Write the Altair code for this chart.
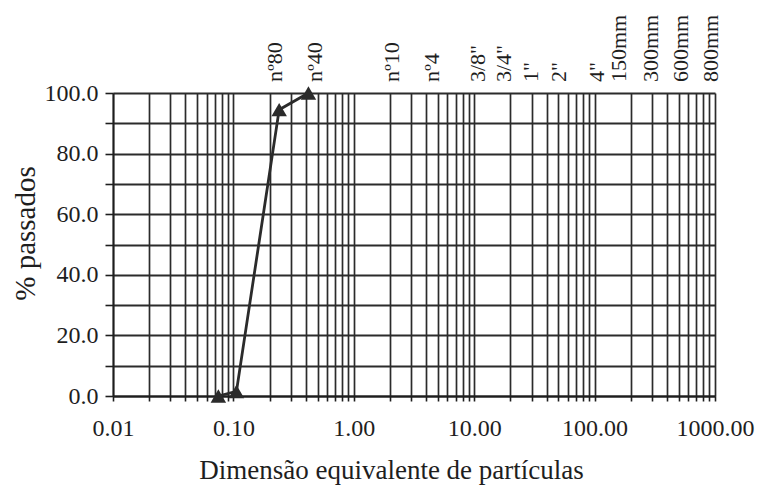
import altair as alt
import pandas as pd

# Grading curve: particle size (mm) and cumulative percent passing
sizes = [0.075, 0.106, 0.24, 0.42]
passing = [0.0, 1.5, 94.5, 100.0]

# Sieve designations and apertures (mm), written above the plot
sieve_names = ["nº80", "nº40", "nº10", "nº4", '3/8"', '3/4"', '1"', '2"', '4"',
               "150mm", "300mm", "600mm", "800mm"]
sieve_sizes = [0.18, 0.42, 2.0, 4.75, 9.5, 19.0, 25.4, 50.8, 101.6,
               150, 300, 600, 800]
# Sideways nudge (px) for each sieve name so neighbouring names don't collide
sieve_nudge = [11, 7, 2, -3, 6, -4, 8, 0, 2, 3, -1, -7, 8]

# Log-grid positions: 1..9 in every decade from 0.01 to 1000
x_ticks = [round(m * 10.0 ** k, 6) for k in range(-2, 3) for m in range(1, 10)] + [1000.0]
y_ticks = list(range(0, 101, 10))

FONT = "Liberation Serif"
INK = "#2b2b2b"
TXT = "#1e1e1e"
PLOT_W, PLOT_H = 602, 303
DECADE_PX = PLOT_W / 5  # five decades across the x axis

curve = pd.DataFrame({"mm": sizes, "pct": passing})
sieves = pd.DataFrame({"mm": sieve_sizes, "name": sieve_names, "nudge": sieve_nudge})

x_scale = alt.Scale(type="log", domain=[0.01, 1000], nice=False)
y_scale = alt.Scale(domain=[0, 100], nice=False, zero=True)

x_axis = alt.Axis(
    values=x_ticks,
    labelExpr="abs(log(datum.value)/LN10 - round(log(datum.value)/LN10)) < 1e-6 ? format(datum.value, '.2f') : ''",
    labelOverlap=False,
    labelFlush=False,
    labelFont=FONT, labelFontSize=24, labelColor=TXT,
    labelPadding=15,
    tickSize=5, tickColor=TXT, tickWidth=1.6,
    grid=True, gridColor=INK, gridWidth=1.7,
    domainColor=TXT, domainWidth=1.8,
    title="Dimensão equivalente de partículas",
    titleFont=FONT, titleFontSize=27, titleFontWeight="normal", titleColor=TXT,
    titleX=278, titleY=74, titleBaseline="middle", titleAlign="center",
)

y_axis = alt.Axis(
    values=y_ticks,
    labelExpr="datum.value % 20 == 0 ? format(datum.value, '.1f') : ''",
    labelOverlap=False,
    labelFlush=False,
    labelFont=FONT, labelFontSize=24, labelColor=TXT,
    labelPadding=7,
    tickSize=8, tickColor=TXT, tickWidth=1.6,
    grid=True, gridColor=INK, gridWidth=2.0,
    domainColor=TXT, domainWidth=1.8,
    title="% passados",
    titleFont=FONT, titleFontSize=29, titleFontWeight="normal", titleColor=TXT,
    titleAngle=270, titleX=-88, titleY=140, titleBaseline="middle", titleAlign="center",
)

line = alt.Chart(curve).mark_line(color=INK, strokeWidth=2.8, clip=False).encode(
    x=alt.X("mm:Q", scale=x_scale, axis=x_axis),
    y=alt.Y("pct:Q", scale=y_scale, axis=y_axis),
)

points = alt.Chart(curve).mark_point(
    shape="triangle-up", filled=True, size=240, color=INK, opacity=1, clip=False
).encode(
    x=alt.X("mm:Q", scale=x_scale, axis=x_axis),
    y=alt.Y("pct:Q", scale=y_scale, axis=y_axis),
)

# Sieve names stand upright just above the top of the grid,
# shifted sideways a few pixels along the log axis where they would crowd
labels = alt.Chart(sieves).transform_calculate(
    at=f"datum.mm * pow(10, datum.nudge / {DECADE_PX})"
).mark_text(
    angle=270, align="left", baseline="middle", dx=11,
    font=FONT, fontSize=22, color=TXT, clip=False
).encode(
    x=alt.X("at:Q", scale=x_scale, axis=x_axis),
    y=alt.YDatum(100, scale=y_scale, axis=y_axis),
    text="name:N",
)

chart = alt.layer(line, points, labels).properties(
    width=PLOT_W,
    height=PLOT_H,
    autosize=alt.AutoSizeParams(type="none"),
    padding={"left": 113, "top": 93, "right": 43, "bottom": 92},
    background="white",
).configure_view(stroke=None)

chart.save("out.html", embed_options={"renderer": "svg", "actions": False})
